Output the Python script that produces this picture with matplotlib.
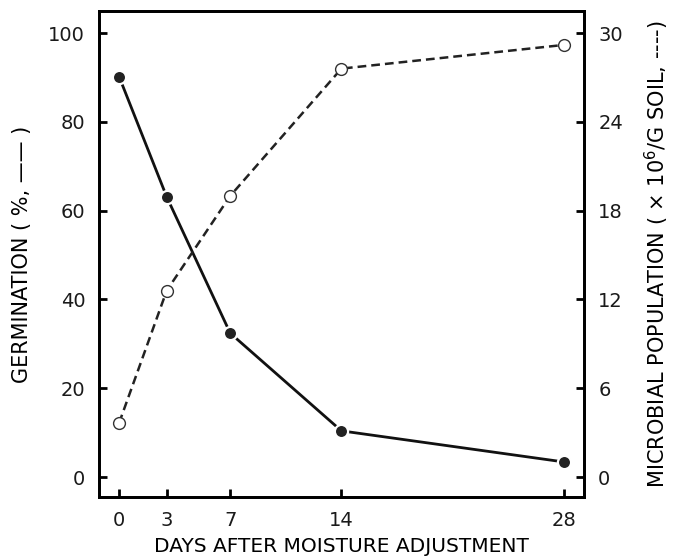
import matplotlib
matplotlib.use("Agg")
import matplotlib.pyplot as plt

# data
days = [0, 3, 7, 14, 28]
germination = [90.2, 63.1, 32.4, 10.4, 3.4]      # %, solid line
microbes = [3.65, 12.6, 19.0, 27.6, 29.2]        # x10^6 / g soil, dashed line

left_ticks = [0, 20, 40, 60, 80, 100]
right_ticks = [0, 6, 12, 18, 24, 30]

plt.rcParams['font.family'] = ['DejaVu Sans']
plt.rcParams['text.color'] = '#1a1a1a'

fig = plt.figure(figsize=(6.74, 5.60), dpi=100)
ax = fig.add_axes([0.147, 0.1125, 0.720, 0.868])
ax2 = ax.twinx()

ax.plot(days, germination, color='#111111', lw=2.0, ls='-',
        marker='o', ms=9.5, mfc='#222222', mec='white', mew=1.6, zorder=3)
ax2.plot(days, microbes, color='#222222', lw=1.8, ls=(0, (3.5, 2.0)),
         marker='o', ms=8.5, mfc='white', mec='#333333', mew=1.0, zorder=3)

ax.set_xlim(-1.26, 29.3)
ax.set_ylim(-4.5, 105)
ax2.set_ylim(-4.5 * 0.3, 105 * 0.3)

ax.set_xticks(days)
ax.set_yticks(left_ticks)
ax2.set_yticks(right_ticks)

for a in (ax, ax2):
    for s in a.spines.values():
        s.set_linewidth(2.0)
    a.tick_params(direction='in', length=6, width=2.0, labelsize=14, pad=10,
                  labelcolor='#1a1a1a')

ax.set_xlabel('DAYS AFTER MOISTURE ADJUSTMENT', fontsize=14.5, labelpad=5)
ax.set_ylabel('GERMINATION ( %, —— )', fontsize=15, labelpad=12)
ax2.set_ylabel('MICROBIAL POPULATION ( × 10$^6$/G SOIL, ----)', fontsize=15,
               labelpad=14)

fig.savefig('out.png', dpi=100)
